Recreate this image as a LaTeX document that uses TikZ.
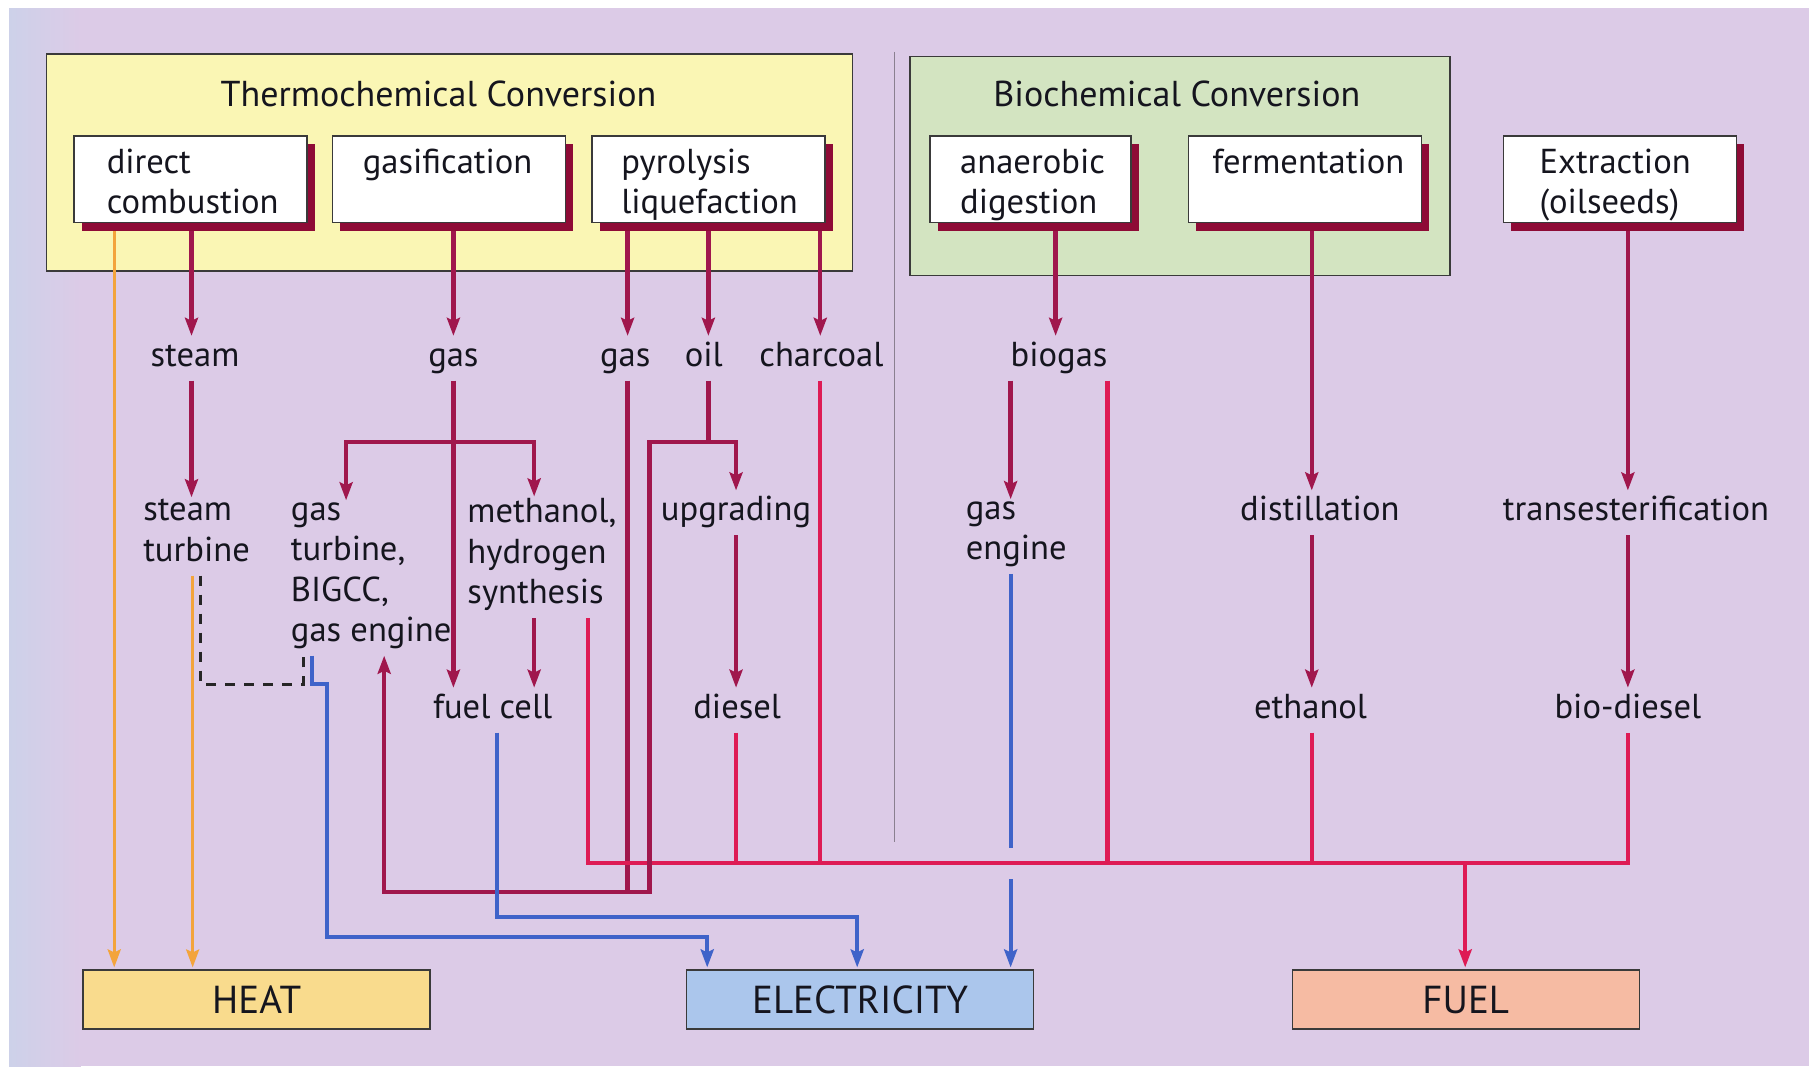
\documentclass[tikz,border=0pt]{standalone}
\usepackage{fontspec}
\setmainfont{PT Sans}
\usetikzlibrary{arrows.meta,shadows}
\pgfdeclarelayer{bgl}
\pgfdeclarelayer{lns}
\pgfsetlayers{bgl,lns,main}
\definecolor{bgc}{HTML}{DCCBE7}
\definecolor{bgl}{HTML}{CDD1E9}
\definecolor{yel}{HTML}{FAF6B4}
\definecolor{grn}{HTML}{D3E4C1}
\definecolor{shd}{HTML}{8E0B36}
\definecolor{mar}{HTML}{A0174D}
\definecolor{cri}{HTML}{DE1B55}
\definecolor{blu}{HTML}{3F63C9}
\definecolor{ora}{HTML}{F3A43C}
\definecolor{heatc}{HTML}{F9DB8D}
\definecolor{elecc}{HTML}{ABC6EC}
\definecolor{fuelc}{HTML}{F6BBA3}
\definecolor{txt}{HTML}{15151E}
\definecolor{bord}{HTML}{3A3A3A}
\definecolor{sepc}{HTML}{8A8090}
\begin{document}
\begin{tikzpicture}[x=1.1537pt,y=-1.1537pt,
  every node/.style={font=\fontsize{34.6}{40.4}\selectfont, text=txt},
  lbl/.style={inner xsep=0pt, inner ysep=2pt, align=left,
    execute at begin node=\strut, execute at end node=\strut},
  proc/.style={draw=bord, line width=1.5pt, fill=white, minimum width=233pt,
    minimum height=86.5pt, inner sep=0pt,
    drop shadow={shadow xshift=8pt, shadow yshift=-8pt, fill=shd, opacity=1}},
  ptxt/.style={inner sep=0pt, align=left,
    execute at begin node=\strut, execute at end node=\strut},
  ttl/.style={font=\fontsize{36}{40}\selectfont},
  cont/.style={draw=bord, line width=1.5pt},
  outb/.style={draw=bord, line width=1.5pt, minimum width=347pt, minimum height=59pt,
    inner sep=0pt, font=\fontsize{39}{40}\selectfont},
  tip/.style={-{Stealth[length=18pt,width=13pt,inset=3pt]}},
  am/.style={draw=mar, line width=4.4pt, tip},
  lm/.style={draw=mar, line width=4.4pt},
  lc/.style={draw=cri, line width=4.2pt},
  ac/.style={draw=cri, line width=4.2pt, tip},
  ab/.style={draw=blu, line width=4pt, tip},
  lb/.style={draw=blu, line width=4pt},
  ao/.style={draw=ora, line width=3pt, tip},
  dsh/.style={draw=black!85, line width=3.2pt, dash pattern=on 10pt off 9pt}
]
\useasboundingbox (0,0) rectangle (1568,924);
\begin{pgfonlayer}{bgl}
  \fill[white] (0,0) rectangle (1568,924);
  \fill[bgc] (8,7) rectangle (1568,924);
  \shade[left color=bgl, right color=bgc] (8,7) rectangle (70,924);
  \node[cont, fill=yel, minimum width=806pt, minimum height=217pt] (thermo) at (389.5,141) {};
  \node[cont, fill=grn, minimum width=540pt, minimum height=219pt] (bio) at (1023,144) {};
  \coordinate (sepT) at (775,45);
  \coordinate (sepB) at (775,730);
  \draw[sepc, line width=1.2pt] (sepT) -- (sepB);
\end{pgfonlayer}

\node[ttl] (tT) at (380,81) {Thermochemical Conversion};
\node[ttl] (tB) at (1020,81) {Biochemical Conversion};

\node[proc] (dc) at (165,155.5) {};
\node[proc] (gasif) at (389,155.5) {};
\node[proc] (pyro) at (614,155.5) {};
\node[proc, minimum width=201pt] (ad) at (893,155.5) {};
\node[proc] (ferm) at (1131,155.5) {};
\node[proc] (ext) at (1404,155.5) {};
\node[ptxt] (dcT) at (167,162.5) {direct\\combustion};
\node[ptxt] (gasifT) at (388,162.5) {gasification\\ \mbox{}};
\node[ptxt] (pyroT) at (615,162.5) {pyrolysis\\liquefaction};
\node[ptxt] (adT) at (895,162.5) {anaerobic\\digestion};
\node[ptxt] (fermT) at (1134,162.5) {fermentation\\ \mbox{}};
\node[ptxt] (extT) at (1400,162.5) {Extraction\\(oilseeds)};

\node[lbl] (steam) at (169,310.5) {steam};
\node[lbl] (gasA) at (393,310.5) {gas};
\node[lbl] (gasB) at (542,310.5) {gas};
\node[lbl] (oil) at (610,310.5) {oil};
\node[lbl] (char) at (712,310.5) {charcoal};
\node[lbl] (biogas) at (918,310.5) {biogas};
\node[lbl, anchor=west] (sturb) at (124,465) {steam\\turbine};
\node[lbl, anchor=west] (gt) at (252,501) {gas\\turbine,\\BIGCC,\\gas engine};
\node[lbl, anchor=west] (meth) at (405,483) {methanol,\\hydrogen\\synthesis};
\node[lbl] (upg) at (638,444.5) {upgrading};
\node[lbl, anchor=west] (ge) at (837,465) {gas\\engine};
\node[lbl] (dist) at (1144,444.5) {distillation};
\node[lbl] (trans) at (1418,444.5) {transesterification};
\node[lbl] (fc) at (427,615.5) {fuel cell};
\node[lbl] (diesel) at (639,615.5) {diesel};
\node[lbl] (eth) at (1136,615.5) {ethanol};
\node[lbl] (biod) at (1411,615.5) {bio-diesel};

\node[outb, fill=heatc] (heat) at (222.5,866.5) {HEAT};
\node[outb, fill=elecc] (elec) at (745.5,866.5) {ELECTRICITY};
\node[outb, fill=fuelc] (fuel) at (1270.5,866.5) {FUEL};

% columns and junctions
\coordinate (xO1) at (99,0);
\coordinate (xS) at (166,0);
\coordinate (xO2) at (167,0);
\coordinate (xD) at (174,0);
\coordinate (xGT) at (300,0);
\coordinate (xGE) at (333,0);
\coordinate (xG) at (393,0);
\coordinate (xFCb) at (431,0);
\coordinate (xM) at (463,0);
\coordinate (xSy) at (510,0);
\coordinate (xPG) at (544,0);
\coordinate (xO) at (614,0);
\coordinate (xU) at (638,0);
\coordinate (xC) at (711,0);
\coordinate (xE1) at (613,0);
\coordinate (xGE2) at (876,0);
\coordinate (xAD) at (915,0);
\coordinate (xBG) at (960,0);
\coordinate (xF) at (1137,0);
\coordinate (xX) at (1411,0);
\coordinate (xFuel) at (1270,0);
\coordinate (brJ) at (393,383);
\coordinate (oilJ) at (614,383);
\coordinate (mbR) at (563,773);
\coordinate (busR) at (1411,748);
\coordinate (jogA) at (270,593);
\coordinate (jogB) at (283,593);
\coordinate (bl2) at (283,812);
\coordinate (bl1) at (743,795);
\coordinate (gapA) at (876,735);
\coordinate (gapB) at (876,762);
\coordinate (dJ) at (263,593);

\begin{pgfonlayer}{lns}
  % orange to heat
  \draw[ao, shorten >=2pt] (dc.south -| xO1) -- (heat.north -| xO1);
  \draw[ao, shorten >=2pt] (sturb.south -| xO2) -- (heat.north -| xO2);
  % dashed link
  \draw[dsh] (sturb.south -| xD) |- (dJ) -- (gt.south -| dJ);
  % maroon process arrows
  \draw[am] (dc.south -| xS) -- (steam.north -| xS);
  \draw[am] (steam.south -| xS) -- (sturb.north -| xS);
  \draw[am] (gasif.south -| xG) -- (gasA.north -| xG);
  \draw[am] (gasA.south -| xG) -- (fc.north -| xG);
  \draw[am] (brJ) -| (gt.north -| xGT);
  \draw[am] (brJ) -| (meth.north -| xM);
  \draw[am] (meth.south -| xM) -- (fc.north -| xM);
  \draw[am] (pyro.south -| xPG) -- (gasB.north -| xPG);
  \draw[am] (pyro.south -| xO) -- (oil.north -| xO);
  \draw[am] (pyro.south -| xC) -- (char.north -| xC);
  \draw[lm] (oil.south -| xO) -- (oilJ);
  \draw[am] (oilJ) -| (upg.north -| xU);
  \draw[lm] (gasB.south -| xPG) -- (xPG |- mbR);
  \draw[am] (upg.south -| xU) -- (diesel.north -| xU);
  \draw[am] (ad.south -| xAD) -- (biogas.north -| xAD);
  \draw[am] (biogas.south -| xGE2) -- (ge.north -| xGE2);
  \draw[am] (ferm.south -| xF) -- (dist.north -| xF);
  \draw[am] (dist.south -| xF) -- (eth.north -| xF);
  \draw[am] (ext.south -| xX) -- (trans.north -| xX);
  \draw[am] (trans.south -| xX) -- (biod.north -| xX);
  % crimson fuel bus
  \draw[lc] (meth.south -| xSy) |- (busR) -- (biod.south -| busR);
  \draw[lc] (diesel.south -| xU) -- (xU |- busR);
  \draw[lc] (char.south -| xC) -- (xC |- busR);
  \draw[lc] (biogas.south -| xBG) -- (xBG |- busR);
  \draw[lc] (eth.south -| xF) -- (xF |- busR);
  \draw[ac, shorten >=2pt] (xFuel |- busR) -- (fuel.north -| xFuel);
  % maroon return to gas engine
  \draw[am] (oilJ) -| (mbR) -| (gt.south -| xGE);
  % blue to electricity
  \draw[ab, shorten >=2pt] (gt.south -| jogA) -- (jogA) -- (jogB) -- (bl2) -| (elec.north -| xE1);
  \draw[ab, shorten >=2pt] (fc.south -| xFCb) |- (bl1) -- (elec.north -| bl1);
  \draw[lb] (ge.south -| xGE2) -- (gapA);
  \draw[ab, shorten >=2pt] (gapB) -- (elec.north -| gapB);
\end{pgfonlayer}
\end{tikzpicture}
\end{document}
